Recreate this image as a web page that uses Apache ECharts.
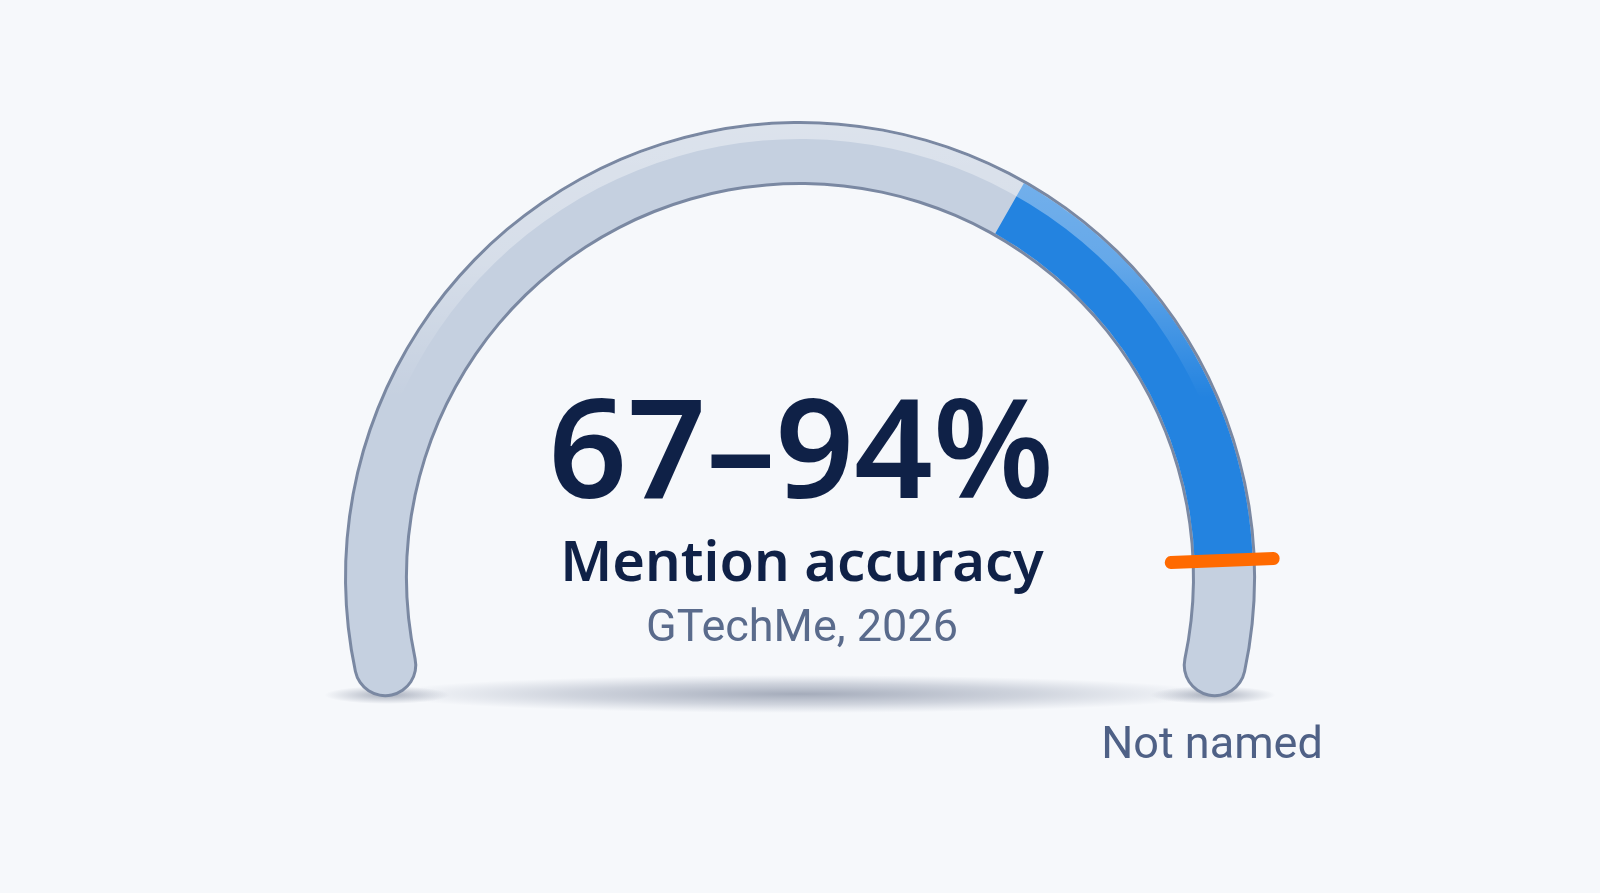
<!DOCTYPE html>
<html>
<head>
<meta charset="utf-8">
<script src="https://cdn.jsdelivr.net/npm/echarts@6/dist/echarts.min.js"></script>
<style>
html,body{margin:0;padding:0;background:#f6f8fb;}
#chart{width:1600px;height:893px;}
</style>
</head>
<body>
<div id="chart"></div>
<script>
// ---- data ----
const rangeLow = 67;
const rangeHigh = 94;
const scaleMin = 0;
const scaleMax = 100;
const metricLabel = 'Mention accuracy';
const sourceLabel = 'GTechMe, 2026';
const endLabel = 'Not named';

const chart = echarts.init(document.getElementById('chart'));

const CX = 800, CY = 577;
const hidden = {
  splitLine: {show: false}, axisTick: {show: false}, axisLabel: {show: false},
  pointer: {show: false}, anchor: {show: false}, title: {show: false},
  detail: {show: false}, progress: {show: false}
};
function gauge(extra) {
  return Object.assign({type: 'gauge', center: [CX, CY], min: scaleMin, max: scaleMax,
    silent: true, animation: false}, hidden, extra);
}
const frac = v => (v - scaleMin) / (scaleMax - scaleMin);

const option = {
  backgroundColor: '#f6f8fb',
  graphic: [
    {type: 'circle', z: 0, x: CX, y: 694, scaleX: 8.4, scaleY: 0.38,
      shape: {cx: 0, cy: 0, r: 50},
      style: {fill: new echarts.graphic.RadialGradient(0.5, 0.5, 0.5, [
        {offset: 0, color: 'rgba(150,158,175,0.85)'},
        {offset: 0.55, color: 'rgba(160,168,185,0.45)'},
        {offset: 1, color: 'rgba(170,178,195,0)'}])}},
    {type: 'circle', z: 0, x: 387, y: 695, scaleX: 1.25, scaleY: 0.18,
      shape: {cx: 0, cy: 0, r: 50},
      style: {fill: new echarts.graphic.RadialGradient(0.5, 0.5, 0.5, [
        {offset: 0, color: 'rgba(140,148,165,0.75)'},
        {offset: 1, color: 'rgba(150,158,175,0)'}])}},
    {type: 'circle', z: 0, x: 1213, y: 695, scaleX: 1.25, scaleY: 0.18,
      shape: {cx: 0, cy: 0, r: 50},
      style: {fill: new echarts.graphic.RadialGradient(0.5, 0.5, 0.5, [
        {offset: 0, color: 'rgba(140,148,165,0.75)'},
        {offset: 1, color: 'rgba(150,158,175,0)'}])}},
    {type: 'text', z: 10, style: {text: rangeLow + '\u2013' + rangeHigh + '%', x: 801, y: 459,
      font: '600 138px "Noto Sans"', fill: '#0f2147', textAlign: 'center', textVerticalAlign: 'middle'}},
    {type: 'text', z: 10, style: {text: metricLabel, x: 802, y: 565,
      font: '600 56px "Noto Sans"', fill: '#0f2147', textAlign: 'center', textVerticalAlign: 'middle'}},
    {type: 'text', z: 10, style: {text: sourceLabel, x: 802, y: 630,
      font: '45px Roboto', fill: '#5a6b8c', textAlign: 'center', textVerticalAlign: 'middle'}},
    {type: 'text', z: 10, style: {text: endLabel, x: 1212, y: 747,
      font: '45px Roboto', fill: '#4f6186', textAlign: 'center', textVerticalAlign: 'middle'}}
  ],
  series: [
    // outline
    gauge({startAngle: 192, endAngle: -12, radius: 456,
      axisLine: {roundCap: true, lineStyle: {width: 64, color: [[1, '#7a88a2']]}}}),
    // track fill
    gauge({startAngle: 192, endAngle: -12, radius: 453,
      axisLine: {roundCap: true, lineStyle: {width: 58, color: [[1, '#c5d0e0']]}}}),
    // value range segment
    gauge({startAngle: 204.7, endAngle: -10.7, radius: 453,
      axisLine: {lineStyle: {width: 58, color: [
        [frac(rangeLow), 'rgba(0,0,0,0)'],
        [frac(rangeHigh), '#2383e0'],
        [1, 'rgba(0,0,0,0)']]}}}),
    // highlight band along outer edge
    gauge({startAngle: 192, endAngle: -12, radius: 453,
      axisLine: {lineStyle: {width: 15, color: [[1, new echarts.graphic.LinearGradient(0, 0, 0, 1, [
        {offset: 0, color: 'rgba(255,255,255,0.4)'},
        {offset: 0.25, color: 'rgba(255,255,255,0.3)'},
        {offset: 0.5, color: 'rgba(255,255,255,0)'},
        {offset: 1, color: 'rgba(255,255,255,0)'}])]]}}}),
    // end marker
    gauge({startAngle: 204.7, endAngle: -10.7, radius: 453,
      axisLine: {show: false},
      pointer: {show: true, icon: 'path://M6,0 A6,6 0 0 1 12,6 L12,108 A6,6 0 0 1 0,108 L0,6 A6,6 0 0 1 6,0 Z',
        width: 13, length: 115, offsetCenter: [0, -365], itemStyle: {color: '#ff6a00'}},
      data: [{value: rangeHigh}]})
  ]
};
chart.setOption(option);
</script>
</body>
</html>
